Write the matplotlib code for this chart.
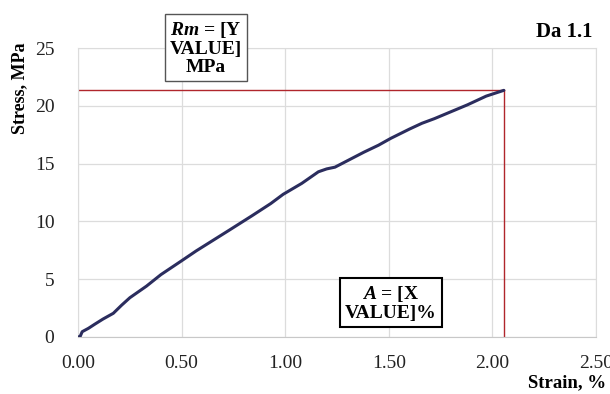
import matplotlib
matplotlib.use("Agg")
import matplotlib.pyplot as plt

# Stress-strain curve
strain_pct = [0.00, 0.01, 0.02, 0.05, 0.08, 0.12, 0.17, 0.21, 0.25, 0.29,
              0.33, 0.40, 0.50, 0.57, 0.65, 0.73, 0.84, 0.93, 0.99, 1.08,
              1.16, 1.20, 1.24, 1.31, 1.38, 1.45, 1.51, 1.60, 1.66, 1.72,
              1.80, 1.88, 1.97, 2.055]
stress_mpa = [0.00, 0.05, 0.46, 0.75, 1.10, 1.55, 2.05, 2.75, 3.40, 3.90,
              4.40, 5.40, 6.60, 7.45, 8.35, 9.25, 10.50, 11.55, 12.35, 13.30,
              14.30, 14.55, 14.70, 15.35, 16.00, 16.60, 17.20, 18.00, 18.50, 18.90,
              19.50, 20.10, 20.85, 21.35]

RM_VALUE = 21.35   # tensile strength marker
A_VALUE = 2.055    # elongation marker

X_TICKS = [0.0, 0.5, 1.0, 1.5, 2.0, 2.5]
X_TICK_LABELS = ["0.00", "0.50", "1.00", "1.50", "2.00", "2.50"]
Y_TICKS = [0, 5, 10, 15, 20, 25]

plt.rcParams["font.family"] = ["Liberation Serif", "DejaVu Serif"]
plt.rcParams["mathtext.fontset"] = "custom"
plt.rcParams["mathtext.rm"] = "Liberation Serif"
plt.rcParams["mathtext.it"] = "Liberation Serif:italic"
plt.rcParams["mathtext.bf"] = "Liberation Serif:bold"
plt.rcParams["mathtext.bfit"] = "Liberation Serif:italic:bold"

fig = plt.figure(figsize=(6.10, 3.94), dpi=100)
ax = fig.add_axes([0.128, 0.1447, 0.849, 0.733])

ax.plot(strain_pct, stress_mpa, color="#2b2d5e", linewidth=2.2,
        solid_joinstyle="round", solid_capstyle="round", zorder=3)

# Rm / A guide lines
ax.plot([0, A_VALUE], [RM_VALUE, RM_VALUE], color="#b0262c", linewidth=1.0, zorder=2)
ax.plot([A_VALUE, A_VALUE], [0, RM_VALUE], color="#b0262c", linewidth=1.0, zorder=2)

ax.set_xlim(0, 2.5)
ax.set_ylim(0, 25)
ax.set_xticks(X_TICKS)
ax.set_xticklabels(X_TICK_LABELS)
ax.set_yticks(Y_TICKS)
ax.tick_params(axis="both", length=0, labelsize=14, colors="#222222")
ax.tick_params(axis="x", pad=13)
ax.tick_params(axis="y", pad=17)
ax.grid(True, color="#dcdcdc", linewidth=0.9)
ax.set_axisbelow(True)
for side in ("top", "right", "left"):
    ax.spines[side].set_color("#dcdcdc")
ax.spines["bottom"].set_color("#c8c8c8")

fig.text(0.033, 0.777, "Stress, MPa", rotation=90, ha="center", va="center",
         fontsize=13, fontweight="bold")
fig.text(0.993, 0.028, "Strain, %", ha="right", va="center",
         fontsize=13.5, fontweight="bold")
fig.text(0.972, 0.92, "Da 1.1", ha="right", va="center",
         fontsize=15, fontweight="bold")

fig.text(0.337, 0.878, "$\\mathbfit{Rm}$ = [Y\nVALUE]\nMPa", ha="center", va="center",
         fontsize=14, fontweight="bold", linespacing=1.1, multialignment="center",
         bbox=dict(boxstyle="square,pad=0.25", facecolor="white",
                   edgecolor="#555555", linewidth=1.0))
fig.text(0.641, 0.231, "$\\mathbfit{A}$ = [X\nVALUE]%", ha="center", va="center",
         fontsize=14, fontweight="bold", linespacing=1.1, multialignment="center",
         bbox=dict(boxstyle="square,pad=0.25", facecolor="white",
                   edgecolor="black", linewidth=1.5))

fig.savefig("out.png", dpi=100)
